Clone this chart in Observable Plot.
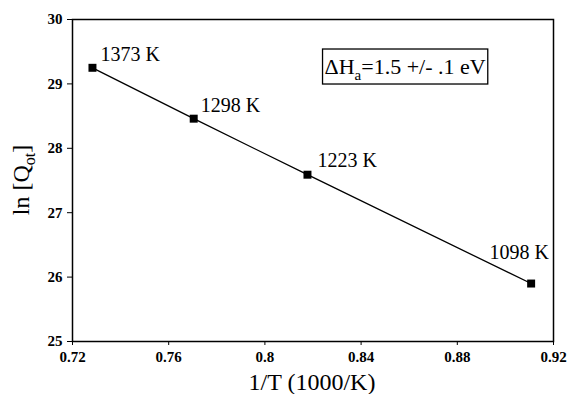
<!DOCTYPE html>
<html><head><meta charset="utf-8">
<script src="https://cdn.jsdelivr.net/npm/d3@7"></script>
<script src="https://cdn.jsdelivr.net/npm/@observablehq/plot@0.6"></script>
<style>body{margin:0;background:#fff}</style>
</head><body><div id="chart"></div>
<script>
const temps = [1373, 1298, 1223, 1098];
const invT = [0.7283, 0.7704, 0.8177, 0.9107];
const lnQ = [29.25, 28.46, 27.59, 25.90];
const labels = ["1373 K", "1298 K", "1223 K", "1098 K"];
const xTicks = [0.72, 0.76, 0.8, 0.84, 0.88, 0.92];
const yTicks = [25, 26, 27, 28, 29, 30];
const annotation = {x: 0.8585, y: 29.27, text: "ΔHa=1.5 +/- .1 eV"};

const data = temps.map((t, i) => ({T: t, x: invT[i], y: lnQ[i], label: labels[i]}));
const offsets = [[8, -13, "start"], [7, -13, "start"], [10, -14, "start"], [-12, -31, "middle"]];
const font = "'Liberation Serif', 'Times New Roman', serif";

const labelMarks = data.map((d, i) => Plot.text([d], {
  x: "x", y: "y", text: "label", dx: offsets[i][0], dy: offsets[i][1],
  textAnchor: offsets[i][2], fontSize: 20, fill: "black"
}));

const plot = Plot.plot({
  width: 570, height: 394,
  marginLeft: 72, marginRight: 17, marginTop: 19, marginBottom: 53,
  style: {fontFamily: font, background: "white", color: "black"},
  x: {domain: [0.72, 0.92], ticks: xTicks, label: null},
  y: {domain: [25, 30], ticks: yTicks, label: null},
  marks: [
    Plot.frame({stroke: "black", strokeWidth: 1.5}),
    Plot.axisX({ticks: xTicks, tickSize: 4, tickPadding: 6, fontSize: 15, fontWeight: 700, label: null,
      tickFormat: d => String(d), stroke: "black", fill: "black"}),
    Plot.axisY({ticks: yTicks, tickSize: 5, tickPadding: 5, fontSize: 15, fontWeight: 700, label: null,
      tickFormat: d => String(d), stroke: "black", fill: "black"}),
    Plot.line(data, {x: "x", y: "y", stroke: "black", strokeWidth: 1.3}),
    Plot.dot(data, {x: "x", y: "y", symbol: "square", r: 4.5, fill: "black"}),
    ...labelMarks
  ]
});
document.getElementById("chart").appendChild(plot);

const svg = d3.select(plot);
svg.selectAll("g[aria-label$='tick label'], g[aria-label$='tick label'] text")
  .attr("font-weight", "700").style("font-weight", "700").attr("fill", "black");
const sx = plot.scale("x"), sy = plot.scale("y");
// annotation box with subscript
const ax = sx.apply(annotation.x), ay = sy.apply(annotation.y);
const g = svg.append("g").attr("font-family", font).attr("font-size", 22);
const t = g.append("text").attr("x", ax).attr("y", ay).attr("text-anchor", "middle").attr("dy", "0.35em");
t.append("tspan").text("ΔH");
t.append("tspan").attr("font-size", 15).attr("dy", 6).text("a");
t.append("tspan").attr("dy", -6).text("=1.5 +/- .1 eV");
const bb = t.node().getBBox();
g.insert("rect", "text").attr("x", bb.x - 2).attr("y", ay - 17).attr("width", bb.width + 4).attr("height", 35)
  .attr("fill", "white").attr("stroke", "black").attr("stroke-width", 1.3);

// x axis label
svg.append("text").attr("x", 312).attr("y", 390).attr("text-anchor", "middle")
  .attr("font-family", font).attr("font-size", 24).text("1/T (1000/K)");
// y axis label
const yl = svg.append("text").attr("transform", "translate(29,180) rotate(-90)").attr("text-anchor", "middle")
  .attr("font-family", font).attr("font-size", 24);
yl.append("tspan").text("ln [Q");
yl.append("tspan").attr("font-size", 16).attr("dy", 6).text("ot");
yl.append("tspan").attr("dy", -6).text("]");
</script></body></html>
